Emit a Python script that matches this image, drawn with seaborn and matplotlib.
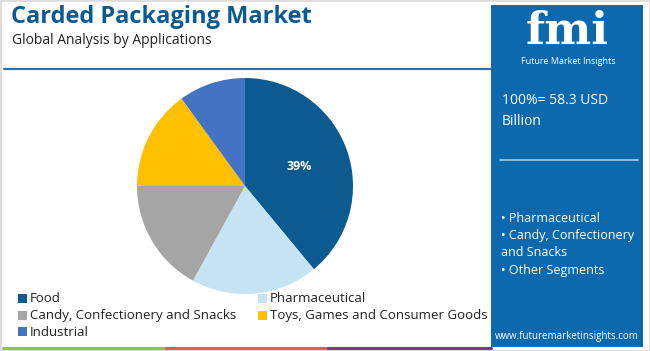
import matplotlib
matplotlib.use("Agg")
import matplotlib.pyplot as plt
import seaborn as sns
from matplotlib.patches import Rectangle

categories = ["Food", "Pharmaceutical", "Candy, Confectionery and Snacks",
              "Toys, Games and Consumer Goods", "Industrial"]
shares = [39, 19, 17, 15, 10]
colors = ["#0b5b91", "#c6e3f4", "#a5a5a5", "#ffc000", "#4573c4"]
title = "Carded Packaging Market"
subtitle = "Global Analysis by Applications"
total_text = "100%= 58.3 USD\nBillion"
bullets = ["• Pharmaceutical", "• Candy, Confectionery", "and Snacks", "• Other Segments"]

sns.set_theme(style="white")
plt.rcParams['font.family'] = ['Open Sans', 'DejaVu Sans']

W, H = 650, 351
fig = plt.figure(figsize=(6.5, 3.51), dpi=100)
fig.patch.set_facecolor("white")

def fx(x): return x / W
def fy(y): return 1 - y / H

# outer light border
fig.patches.append(Rectangle((0, 0), 1, 1, transform=fig.transFigure,
                             fill=False, edgecolor="#dddddd", linewidth=2))

# Title
fig.text(fx(11), fy(17), title, fontsize=17, fontweight="bold", color="#0b5b91",
         va="center", ha="left")
fig.text(fx(12), fy(40), subtitle, fontsize=10, color="#222222", va="center", ha="left")
# rule under title
fig.add_artist(plt.Line2D([fx(4), fx(491)], [fy(69), fy(69)], transform=fig.transFigure,
                          color="#2f6fa8", linewidth=1.6))

# Pie
cx, cy, r = 245, 186, 108
ax = fig.add_axes([fx(cx - r), fy(cy + r), 2 * r / W, 2 * r / H])
wedges, texts, autotexts = ax.pie(shares, colors=sns.color_palette(colors), startangle=90,
                                  counterclock=False, autopct="%d%%", pctdistance=0.53,
                                  wedgeprops=dict(linewidth=0),
                                  textprops=dict(color="white", fontsize=9, fontweight="bold"))
for i, t in enumerate(autotexts):
    if i != 0:
        t.set_visible(False)
ax.set_xlim(-1, 1)
ax.set_ylim(-1, 1)
ax.set_aspect("equal")
ax.axis("off")

# Legend
leg_items = [(18, 299, 0), (258, 299, 1), (18, 316, 2), (258, 316, 3), (18, 332, 4)]
for x, y, i in leg_items:
    fig.patches.append(Rectangle((fx(x), fy(y + 4)), 9 / W, 9 / H, transform=fig.transFigure,
                                 facecolor=colors[i], edgecolor="none"))
    fig.text(fx(x + 12), fy(y), categories[i], fontsize=9.5, color="#222222",
             va="center", ha="left")

# bottom colored line
for x0, x1, c in [(3, 166, "#8dc63f"), (166, 328, "#e8613c"), (328, 491, "#8b2d8f")]:
    fig.add_artist(plt.Line2D([fx(x0), fx(x1)], [fy(348), fy(348)], transform=fig.transFigure,
                              color=c, linewidth=2.2))

# Right panel
fig.patches.append(Rectangle((fx(491), fy(347)), (643 - 491) / W, (347 - 5) / H,
                             transform=fig.transFigure, facecolor="#0c69ad", edgecolor="none"))
fig.text(fx(567), fy(32), "fmi", fontsize=32, fontweight="bold", color="white",
         family=["DejaVu Serif"], ha="center", va="center")
fig.text(fx(568), fy(62), "Future Market Insights", fontsize=6.5, color="white",
         ha="center", va="center")
fig.text(fx(502), fy(111), total_text, fontsize=10, color="white", ha="left",
         va="center", linespacing=1.55)
fig.add_artist(plt.Line2D([fx(500), fx(638)], [fy(160), fy(160)], transform=fig.transFigure,
                          color="#a9cbe6", linewidth=1.2))
for k, b in enumerate(bullets):
    fig.text(fx(501), fy(218 + k * 17.5), b, fontsize=9, color="white", ha="left", va="center")
fig.text(fx(567), fy(337), "www.futuremarketinsights.com", fontsize=7, color="white",
         ha="center", va="center")

fig.savefig("out.png", dpi=100, facecolor="white")
